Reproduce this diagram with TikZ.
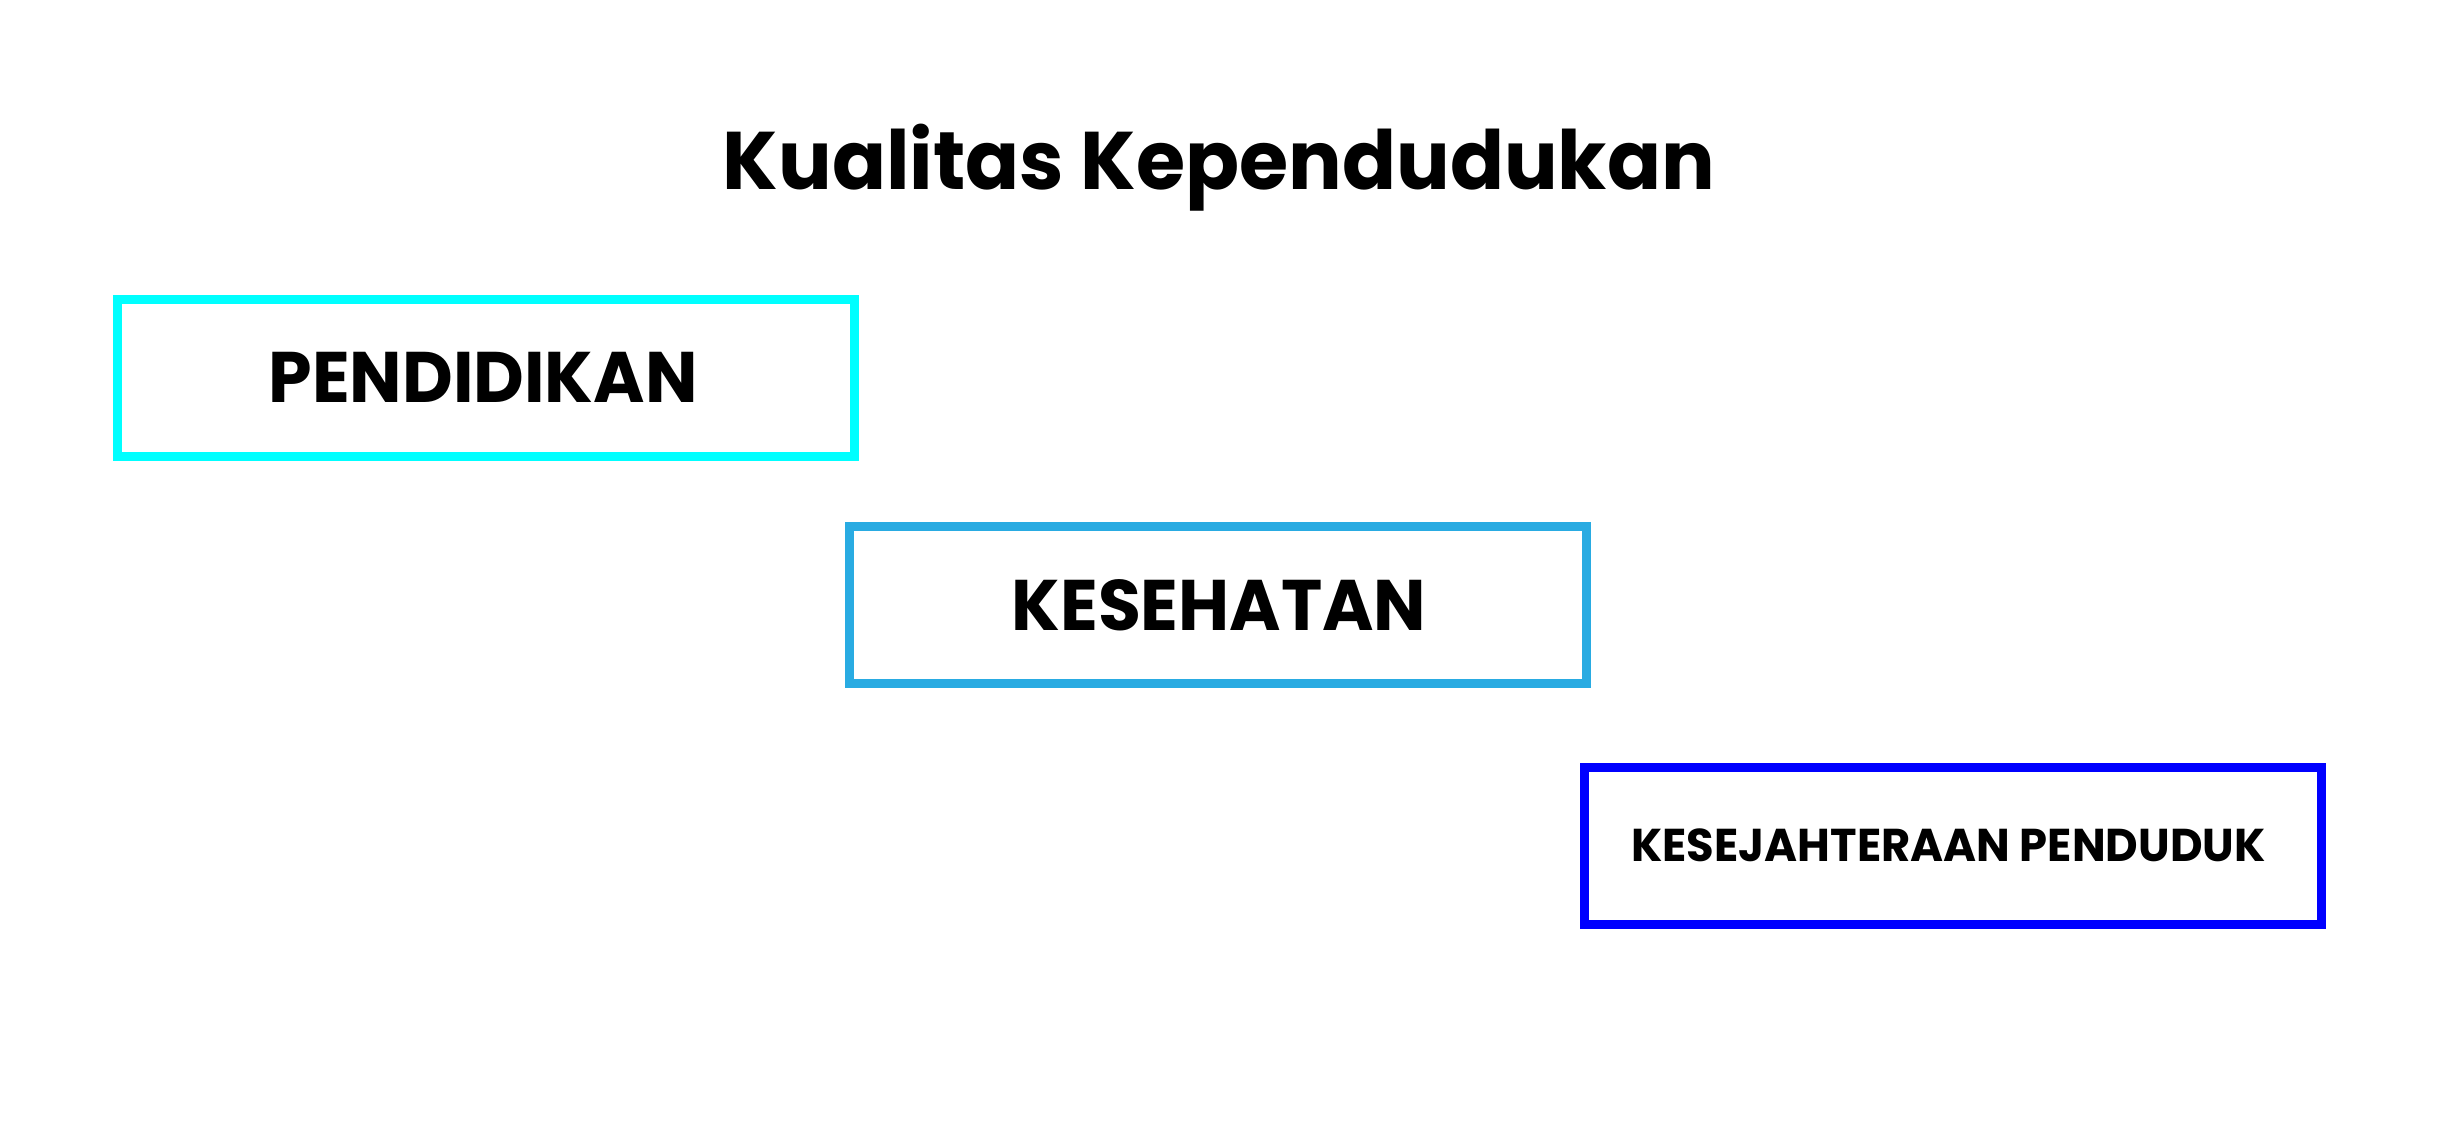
\documentclass[tikz,border=0pt]{standalone}
\usepackage{fontspec}
\setmainfont{Poppins}[UprightFont=* Bold,BoldFont=* Bold,FakeStretch=0.975]
\definecolor{boxcyan}{HTML}{00FFFF}
\definecolor{boxsky}{HTML}{29ABE2}
\definecolor{boxblue}{HTML}{0000FF}
\tikzset{
  itembox/.style={draw=#1, line width=9pt, minimum width=737pt, minimum height=157pt, inner sep=0pt, outer sep=0pt, fill=white},
  bigtext/.style={font=\fontsize{71.6}{80}\selectfont},
  smalltext/.style={font=\fontsize{46}{52}\selectfont},
}
\begin{document}
\begin{tikzpicture}[x=1pt,y=-1pt]
\useasboundingbox[fill=white] (0,0) rectangle (2437,1126);
\node[anchor=base, font=\fontsize{81.7}{90}\selectfont] (title) at (1219,190) {Kualitas Kependudukan};
\node[itembox=boxcyan, bigtext] (pend) at (486,377.5) {PENDIDIKAN\kern6pt};
\node[itembox=boxsky, bigtext] (kes) at (1218,605) {KESEHATAN\kern-2pt};
\node[itembox=boxblue, smalltext] (kesej) at (1953,845.5) {KESEJAHTERAAN PENDUDUK\kern9pt};
\end{tikzpicture}
\end{document}
